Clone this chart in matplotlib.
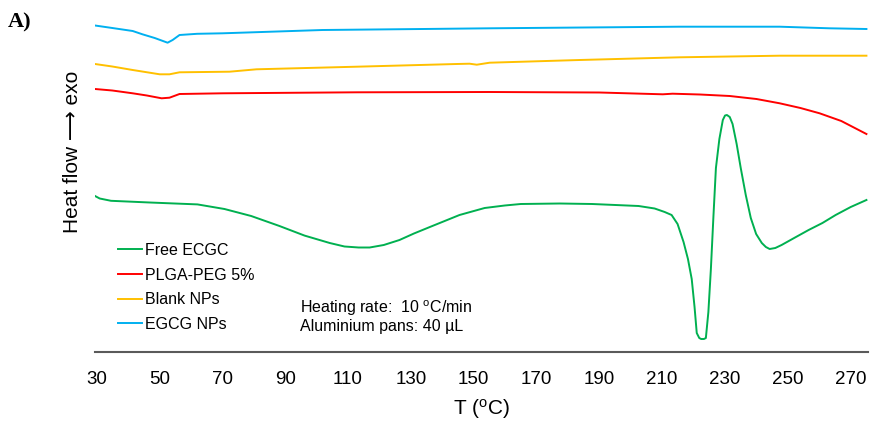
import matplotlib.pyplot as plt
from matplotlib.lines import Line2D

plt.rcParams['font.family'] = ['Liberation Sans', 'DejaVu Sans']
plt.rcParams['mathtext.default'] = 'regular'

# DSC traces, temperature (oC) vs heat flow (arbitrary units, exo up)
t_egcg_nps = [29.5, 35, 41.5, 44.6, 48.5, 52.6, 54.2, 56.4, 62, 70.1, 101.9, 133.8,
              155.1, 185, 215.5, 247.4, 263.3, 275]
hf_egcg_nps = [32.65, 32.4, 32.1, 31.77, 31.4, 30.93, 31.2, 31.7, 31.82, 31.87, 32.2, 32.3,
               32.37, 32.45, 32.53, 32.53, 32.37, 32.3]

t_blank_nps = [29.5, 35, 41.5, 50.1, 53.2, 56.4, 72.3, 80.9, 112.8, 144.6, 148.7, 151,
               155.1, 183.7, 215.6, 247.4, 275]
hf_blank_nps = [28.8, 28.55, 28.2, 27.77, 27.77, 27.97, 28.03, 28.27, 28.53, 28.8, 28.83, 28.73,
                28.93, 29.2, 29.47, 29.63, 29.63]

t_plga = [29.5, 35, 41.5, 46, 50.7, 53.2, 56.4, 70.1, 112.8, 155.1, 190, 210.2, 213.3,
          222, 231.5, 240, 247.4, 254, 260.1, 267, 275]
hf_plga = [26.3, 26.15, 25.87, 25.65, 25.37, 25.43, 25.8, 25.87, 25.97, 26.0, 25.95, 25.77, 25.83,
           25.75, 25.6, 25.3, 24.87, 24.4, 23.87, 23.1, 21.8]

t_free = [29.5, 31, 34.6, 46.9, 62.1, 70.7, 79.2, 88.2, 96.2, 104.2, 108.9, 113.4, 116.9,
          121.4, 126.4, 131, 136.3, 145.5, 153.5, 159.9, 165, 177.4, 187.7, 202.5, 207.6,
          210.8, 213, 214.9, 216.8, 218.2, 219.4, 220.3, 221, 221.8, 222.4, 223.3, 223.9,
          224.7, 225.5, 226.3, 227.1, 228.2, 229.3, 230, 230.6, 231.5, 232.4, 233.7, 235,
          236.6, 238.2, 239.9, 241.7, 243, 244.2, 246, 248, 252, 256.6, 261, 265.2, 270, 275]
hf_free = [15.6, 15.35, 15.12, 14.95, 14.76, 14.3, 13.6, 12.6, 11.64, 10.9, 10.55, 10.45, 10.45,
           10.7, 11.2, 11.85, 12.53, 13.7, 14.4, 14.65, 14.8, 14.85, 14.8, 14.6, 14.35,
           14.0, 13.7, 12.8, 11.0, 9.3, 7.3, 4.5, 1.9, 1.4, 1.3, 1.3, 1.4,
           4.0, 8.3, 13.5, 18.4, 21.3, 23.2, 23.65, 23.7, 23.5, 22.8, 20.8, 18.4,
           15.7, 13.4, 11.8, 10.9, 10.5, 10.3, 10.4, 10.7, 11.4, 12.2, 12.9, 13.7, 14.5, 15.2]

series = [
    ("Free ECGC", t_free, hf_free, "#00B050"),
    ("PLGA-PEG 5%", t_plga, hf_plga, "#FF0000"),
    ("Blank NPs", t_blank_nps, hf_blank_nps, "#FFC000"),
    ("EGCG NPs", t_egcg_nps, hf_egcg_nps, "#00B0F0"),
]
xticks = list(range(30, 280, 20))

fig = plt.figure(figsize=(8.8, 4.22), dpi=100)
ax = fig.add_axes([95 / 880, 70 / 422, 773 / 880, 337 / 422])

for name, t, hf, color in series:
    ax.plot(t, hf, color=color, linewidth=1.4, solid_joinstyle="round")

ax.set_xlim(29.5, 275.5)
ax.set_ylim(0, 33.7)
ax.set_xticks(xticks)
ax.tick_params(axis='x', length=0, pad=14)
for lbl in ax.get_xticklabels():
    lbl.set_family(['Liberation Sans Narrow', 'Liberation Sans'])
    lbl.set_fontsize(13.5)
ax.set_yticks([])
for side in ("left", "right", "top"):
    ax.spines[side].set_visible(False)
ax.spines["bottom"].set_color("#5a5a5a")
ax.spines["bottom"].set_linewidth(1.5)

ax.set_xlabel("T ($^{o}$C)", fontsize=15, labelpad=6)
fig.text(72 / 880, 1 - 152 / 422, "Heat flow \u27f6 exo", rotation=90,
         ha="center", va="center", fontsize=15)

handles = [Line2D([], [], color=c, linewidth=1.4) for _, _, _, c in series]
labels = [n for n, _, _, _ in series]
fig.legend(handles, labels, loc="upper left", bbox_to_anchor=(110 / 880, 1 - 235 / 422),
           frameon=False, fontsize=11.5, handlelength=1.5, handletextpad=0.2,
           labelspacing=0.6, borderpad=0)

fig.text(300 / 880, 1 - 308 / 422, "Heating rate:  10 $^{o}$C/min",
         ha="left", va="center", fontsize=11.5)
fig.text(300 / 880, 1 - 326 / 422, "Aluminium pans: 40 \u00b5L",
         ha="left", va="center", fontsize=11.5)
fig.text(8 / 880, 1 - 22 / 422, "A)", family="Liberation Serif", fontweight="bold",
         fontsize=16, ha="left", va="center")

fig.savefig("out.png", dpi=100)
